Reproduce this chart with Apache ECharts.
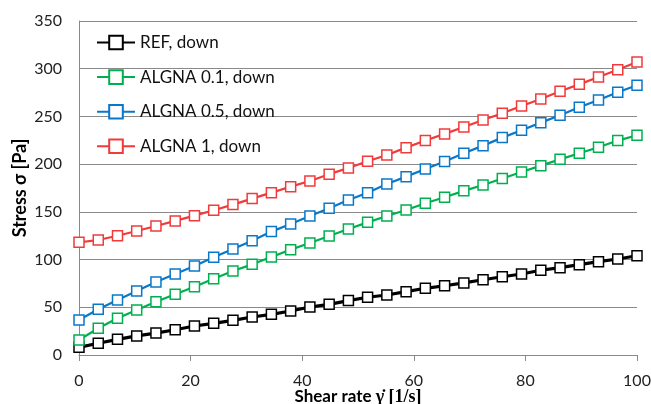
<!DOCTYPE html>
<html>
<head>
<meta charset="utf-8">
<script src="https://cdn.jsdelivr.net/npm/echarts@6/dist/echarts.min.js"></script>
<style>html,body{margin:0;padding:0;background:#fff}#c{width:651px;height:404px}</style>
</head>
<body>
<div id="c"></div>
<script>
const shearRate = [0, 3.45, 6.9, 10.34, 13.79, 17.24, 20.69, 24.14, 27.59, 31.03, 34.48, 37.93, 41.38, 44.83, 48.28, 51.72, 55.17, 58.62, 62.07, 65.52, 68.97, 72.41, 75.86, 79.31, 82.76, 86.21, 89.66, 93.10, 96.55, 100];
const refDown = [8, 12.3, 16.4, 20, 23, 26.5, 30.4, 33.2, 36.3, 39.8, 42.6, 46.1, 50.3, 53.1, 57, 60.5, 62.9, 66.4, 69.9, 72.6, 75.5, 78.9, 82, 84.9, 88.8, 91.5, 94.7, 97.8, 100.6, 104];
const algna01 = [15.7, 28, 38.5, 47.2, 55.9, 63.6, 71.6, 80, 88, 95, 102.7, 110.4, 117.4, 124.7, 132, 139, 145.7, 152, 159, 165.3, 172, 178.2, 185, 191.8, 198.4, 205, 211.4, 217.7, 224.7, 230.3];
const algna05 = [36.7, 47.9, 57.7, 67.1, 76.5, 84.9, 93.3, 102.4, 111, 119.8, 129.3, 137.3, 145.7, 153.8, 162.5, 170.1, 179.2, 186.9, 195, 202.7, 211.4, 219.4, 227.8, 235.5, 243.5, 251.3, 259.6, 267.3, 275.4, 282.7];
const algna1 = [118.1, 120.5, 125, 130, 135.2, 140.5, 146, 151.7, 157.6, 163.9, 170.1, 176.4, 182.4, 189.5, 196, 203, 209.6, 217.3, 224.7, 231.7, 239, 246.3, 253.4, 261, 268.3, 276.4, 283.6, 291.3, 299, 307.1];
const seriesNames = ['REF, down', 'ALGNA 0.1, down', 'ALGNA 0.5, down', 'ALGNA 1, down'];
const seriesColors = ['#000000', '#00b050', '#0a78c8', '#f23a3a'];
const seriesData = [refDown, algna01, algna05, algna1];
const seriesWidths = [3.2, 2.2, 2.2, 2.2];

const font = 'Lato, "Open Sans", sans-serif';
const chart = echarts.init(document.getElementById('c'), null, {renderer: 'canvas'});
chart.setOption({
  animation: false,
  backgroundColor: '#fff',
  grid: {left: 79, right: 14, top: 21, bottom: 49, containLabel: false, outerBoundsMode: 'none'},
  legend: {
    orient: 'vertical', left: 91, top: 29, itemGap: 17.6,
    itemWidth: 38, itemHeight: 17,
    textStyle: {fontFamily: font, fontSize: 17, color: '#111'},
    data: seriesNames
  },
  xAxis: {
    type: 'value', min: 0, max: 100, interval: 20,
    name: '{a|Shear rate }{b|γ̇ [1/s]}', nameLocation: 'middle', nameGap: 33,
    nameMoveOverlap: false,
    nameTextStyle: {rich: {
      a: {fontFamily: font, fontWeight: 'bold', fontSize: 17, color: '#000'},
      b: {fontFamily: '"Liberation Serif", serif', fontWeight: 'bold', fontSize: 18, color: '#000'}
    }},
    axisLine: {lineStyle: {color: '#8a8a8a', width: 1}},
    axisTick: {show: true, length: 6, lineStyle: {color: '#8a8a8a'}},
    axisLabel: {fontFamily: font, fontSize: 16, color: '#222', margin: 18},
    splitLine: {show: false}
  },
  yAxis: {
    type: 'value', min: 0, max: 350, interval: 50,
    name: 'Stress σ [Pa]', nameLocation: 'middle', nameGap: 50,
    nameMoveOverlap: false,
    nameTextStyle: {fontFamily: font, fontWeight: 'bold', fontSize: 18, color: '#000'},
    axisLine: {show: true, lineStyle: {color: '#8a8a8a', width: 1}},
    axisTick: {show: false},
    axisLabel: {fontFamily: font, fontSize: 16, color: '#222', margin: 17},
    splitLine: {lineStyle: {color: '#8a8a8a', width: 1}}
  },
  series: seriesData.map((d, i) => ({
    name: seriesNames[i], type: 'line',
    data: d.map((v, j) => [shearRate[j], v]),
    symbol: 'rect', symbolSize: 10,
    showAllSymbol: true,
    lineStyle: {color: seriesColors[i], width: seriesWidths[i]},
    itemStyle: {color: '#fff', borderColor: seriesColors[i], borderWidth: 1.5},
    emphasis: {disabled: true}
  })),
  color: seriesColors
});
</script>
</body>
</html>
